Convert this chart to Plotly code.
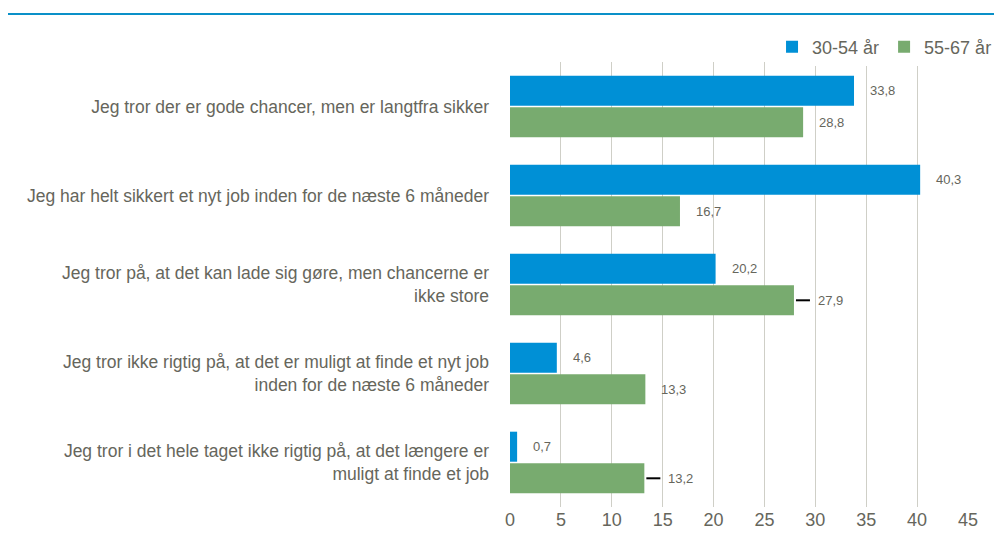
import plotly.graph_objects as go

categories = [
    "Jeg tror der er gode chancer, men er langtfra sikker",
    "Jeg har helt sikkert et nyt job inden for de næste 6 måneder",
    "Jeg tror på, at det kan lade sig gøre, men chancerne er<br>ikke store",
    "Jeg tror ikke rigtig på, at det er muligt at finde et nyt job<br>inden for de næste 6 måneder",
    "Jeg tror i det hele taget ikke rigtig på, at det længere er<br>muligt at finde et job",
]
series_names = ["30-54 år", "55-67 år"]
values_30_54 = [33.8, 40.3, 20.2, 4.6, 0.7]
values_55_67 = [28.8, 16.7, 27.9, 13.3, 13.2]
leader_55_67 = [False, False, True, False, True]
x_ticks = [0, 5, 10, 15, 20, 25, 30, 35, 40, 45]

BLUE = "#0090D6"
GREEN = "#78AB6F"
GRAY_TXT = "#66665C"
FONT = "Liberation Sans"

W, H = 994, 531
ML, MR, MT, MB = 502, 34, 54, 32
PW, PH = W - ML - MR, H - MT - MB

bargap = 0.29
fig = go.Figure()
fig.add_trace(go.Bar(y=categories, x=values_30_54, name=series_names[0], orientation="h",
                     marker=dict(color=BLUE, line=dict(width=0))))
fig.add_trace(go.Bar(y=categories, x=values_55_67, name=series_names[1], orientation="h",
                     marker=dict(color=GREEN, line=dict(width=0))))

off = (1 - bargap) / 4
annotations = []
shapes = []
def fmt(v):
    return f"{v:.1f}".replace(".", ",")
for i, (a, b, lead) in enumerate(zip(values_30_54, values_55_67, leader_55_67)):
    annotations.append(dict(x=a, y=i - off, xref="x", yref="y", text=fmt(a), showarrow=False,
                            xanchor="left", xshift=14, font=dict(size=13, color=GRAY_TXT, family=FONT)))
    annotations.append(dict(x=b, y=i + off, xref="x", yref="y", text=fmt(b), showarrow=False,
                            xanchor="left", xshift=22 if lead else 14,
                            font=dict(size=13, color=GRAY_TXT, family=FONT)))
    if lead:
        shapes.append(dict(type="line", xref="x", yref="y", xsizemode="pixel", xanchor=b,
                           x0=2, x1=16, y0=i + off, y1=i + off,
                           line=dict(color="black", width=2)))

shapes.append(dict(type="line", xref="paper", yref="paper", x0=-ML / PW, x1=1.0 + (MR - 2) / PW,
                   y0=1 + 48 / PH, y1=1 + 48 / PH, line=dict(color="#0A90C8", width=2)))

fig.update_layout(
    width=W, height=H,
    margin=dict(l=ML, r=MR, t=MT, b=MB, autoexpand=False),
    paper_bgcolor="white", plot_bgcolor="white",
    barmode="group", bargap=bargap, bargroupgap=0.05,
    font=dict(family=FONT, color=GRAY_TXT, size=17.5),
    showlegend=True,
    legend=dict(orientation="h", xref="container", yref="container", x=0.995, xanchor="right",
                y=1 - 39 / H, yanchor="middle",
                font=dict(size=18, color=GRAY_TXT), itemwidth=30, traceorder="normal"),
    annotations=annotations, shapes=shapes,
    xaxis=dict(range=[0, 45], tickvals=x_ticks, showgrid=True, gridcolor="#CFCFC7", gridwidth=1,
               zeroline=False, showline=False, ticks="", tickfont=dict(size=18, color=GRAY_TXT)),
    yaxis=dict(autorange="reversed", showgrid=False, ticks="", ticklabelstandoff=20,
               tickfont=dict(size=17.5, color=GRAY_TXT)),
)
fig.write_html("out.html")
